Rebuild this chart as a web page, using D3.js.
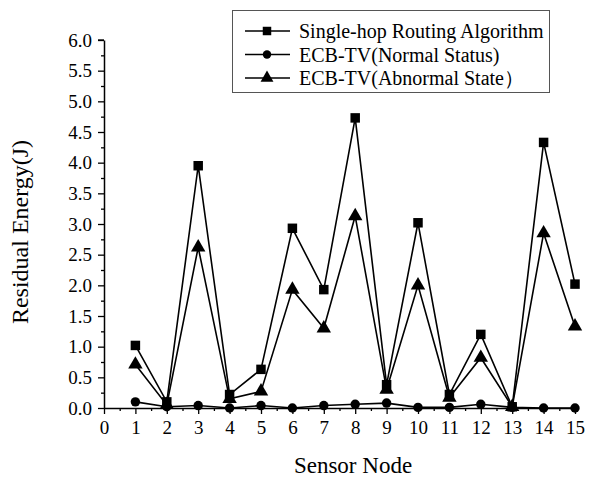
<!DOCTYPE html>
<meta charset="utf-8">
<style>
body { margin: 0; background: #fff; }
text { font-family: "Liberation Serif", Tinos, "Times New Roman", Times, "DejaVu Serif", serif; fill: #000; }
</style>
<svg width="596" height="480"></svg>
<script src="https://cdn.jsdelivr.net/npm/d3@7"></script>
<script>
// sensor nodes and residual energy (J)
var nodes = [1, 2, 3, 4, 5, 6, 7, 8, 9, 10, 11, 12, 13, 14, 15];
var singleHop = [1.02, 0.1, 3.95, 0.22, 0.63, 2.93, 1.93, 4.73, 0.38, 3.02, 0.22, 1.2, 0.02, 4.33, 2.02];
var ecbNormal = [0.1, 0.02, 0.04, 0.0, 0.04, 0.0, 0.04, 0.06, 0.08, 0.01, 0.01, 0.06, 0.01, 0.0, 0.0];
var ecbAbnormal = [0.71, 0.05, 2.62, 0.15, 0.27, 1.93, 1.3, 3.13, 0.3, 2.0, 0.17, 0.82, 0.02, 2.85, 1.33];
var seriesNames = ["Single-hop Routing Algorithm", "ECB-TV(Normal Status)", "ECB-TV(Abnormal State\uFF09"];
var xTicks = d3.range(0, 16);
var yTicks = d3.range(0, 6.01, 0.5);

var serif = '"Liberation Serif", Tinos, "Times New Roman", Times, "DejaVu Serif", serif';

var svg = d3.select("svg");
var margin = {left: 104, right: 21, top: 40, bottom: 72};
var width = 596 - margin.left - margin.right,
    height = 480 - margin.top - margin.bottom;

var x = d3.scaleLinear().domain([0, 15]).range([0, width]);
var y = d3.scaleLinear().domain([0, 6]).range([height, 0]);

var g = svg.append("g").attr("transform", "translate(" + margin.left + "," + margin.top + ")");

// minor ticks first
g.append("g")
    .attr("transform", "translate(0," + height + ")")
    .call(d3.axisBottom(x).tickValues(d3.range(0.5, 15, 1)).tickSize(3).tickFormat(""))
    .call(function(s) { s.select(".domain").remove(); s.selectAll("line").attr("stroke-width", 1.3); });
g.append("g")
    .call(d3.axisLeft(y).tickValues(d3.range(0.25, 6, 0.5)).tickSize(3).tickFormat(""))
    .call(function(s) { s.select(".domain").remove(); s.selectAll("line").attr("stroke-width", 1.3); });

var xAxis = g.append("g")
    .attr("transform", "translate(0," + height + ")")
    .call(d3.axisBottom(x).tickValues(xTicks).tickSize(6).tickSizeOuter(0).tickPadding(7).tickFormat(d3.format("d")));
var yAxis = g.append("g")
    .call(d3.axisLeft(y).tickValues(yTicks).tickSize(6).tickSizeOuter(0).tickPadding(6).tickFormat(d3.format(".1f")));

[xAxis, yAxis].forEach(function(a) {
  a.attr("font-family", serif).attr("font-size", 19);
  a.select(".domain").attr("stroke-width", 1.5);
  a.selectAll("line").attr("stroke-width", 1.3);
});
// right-angle top of y axis
g.append("line").attr("x1", 0).attr("x2", -6).attr("y1", 0).attr("y2", 0).attr("stroke", "#000").attr("stroke-width", 1.3);

svg.append("text")
    .attr("x", 353)
    .attr("y", 473)
    .attr("text-anchor", "middle")
    .style("font-size", "23px")
    .text("Sensor Node");

svg.append("text")
    .attr("transform", "translate(28,232) rotate(-90)")
    .attr("text-anchor", "middle")
    .style("font-size", "24px")
    .text("Residual Energy(J)");

var line = d3.line()
    .x(function(d, i) { return x(nodes[i]); })
    .y(function(d) { return y(d); });

var series = [singleHop, ecbNormal, ecbAbnormal];
var shapes = [d3.symbolSquare, d3.symbolCircle, d3.symbolTriangle];
var sizes = [90, 70, 90];

series.forEach(function(vals, k) {
  g.append("path")
      .datum(vals)
      .attr("fill", "none")
      .attr("stroke", "#000")
      .attr("stroke-width", 1.6)
      .attr("d", line);
  g.selectAll(".m" + k)
      .data(vals)
      .enter().append("path")
      .attr("class", "m" + k)
      .attr("transform", function(d, i) { return "translate(" + x(nodes[i]) + "," + y(d) + ")"; })
      .attr("d", d3.symbol().type(shapes[k]).size(sizes[k]));
});

// legend
var leg = svg.append("g");
leg.append("rect")
    .attr("x", 232.5).attr("y", 10.5)
    .attr("width", 317).attr("height", 82)
    .attr("fill", "#fff").attr("stroke", "#555").attr("stroke-width", 1);
seriesNames.forEach(function(name, k) {
  var cy = 31 + k * 23.5;
  leg.append("line")
      .attr("x1", 245).attr("x2", 290).attr("y1", cy).attr("y2", cy)
      .attr("stroke", "#000").attr("stroke-width", 1.6);
  leg.append("path")
      .attr("transform", "translate(267," + cy + ")")
      .attr("d", d3.symbol().type(shapes[k]).size(sizes[k] * 0.8));
  leg.append("text")
      .attr("x", 299).attr("y", cy + 7)
      .style("font-size", "20px")
      .text(name);
});
</script>
